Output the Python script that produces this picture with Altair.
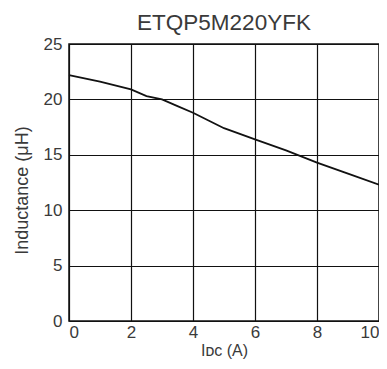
import altair as alt
import pandas as pd

current_a = [0, 1, 2, 2.5, 3, 3.5, 4, 4.5, 5, 6, 7, 8, 9, 10]
inductance_uh = [22.2, 21.6, 20.9, 20.3, 20.0, 19.4, 18.8, 18.1, 17.4, 16.4, 15.4, 14.3, 13.3, 12.3]
x_ticks = [0, 2, 4, 6, 8, 10]
y_ticks = [0, 5, 10, 15, 20, 25]

df = pd.DataFrame({"x": current_a, "y": inductance_uh})

FONT = "Liberation Sans"
TXT = "#3a3a3a"

chart = (
    alt.Chart(df)
    .mark_line(color="#111111", strokeWidth=1.8)
    .encode(
        x=alt.X(
            "x:Q",
            scale=alt.Scale(domain=[0, 10], nice=False),
            axis=alt.Axis(
                values=x_ticks,
                title="Iᴅᴄ (A)",
                grid=True,
                ticks=False,
                domain=False,
                labelPadding=3,
                titlePadding=2,
                titleFontSize=16,
            ),
        ),
        y=alt.Y(
            "y:Q",
            scale=alt.Scale(domain=[0, 25], nice=False),
            axis=alt.Axis(
                values=y_ticks,
                title="Inductance (μH)",
                grid=True,
                ticks=False,
                domain=False,
                labelPadding=7,
                titlePadding=12,
                titleFontSize=18,
                titleY=146,
            ),
        ),
    )
    .properties(
        width=310,
        height=277,
        title=alt.TitleParams(
            "ETQP5M220YFK", fontSize=22.5, font=FONT, fontWeight="normal", color=TXT, offset=1
        ),
        autosize=alt.AutoSizeParams(type="none"),
        padding={"left": 61, "top": 36, "right": 0, "bottom": 40},
    )
    .configure_axis(
        gridColor="#111111",
        gridWidth=1.2,
        gridOpacity=1,
        labelFont=FONT,
        labelFontSize=17,
        labelColor=TXT,
        titleFont=FONT,
        titleFontSize=17,
        titleFontWeight="normal",
        titleColor=TXT,
    )
    .configure_view(stroke="#111111", strokeWidth=1.5)
)

chart.save("out.html", embed_options={"renderer": "svg", "actions": False})
